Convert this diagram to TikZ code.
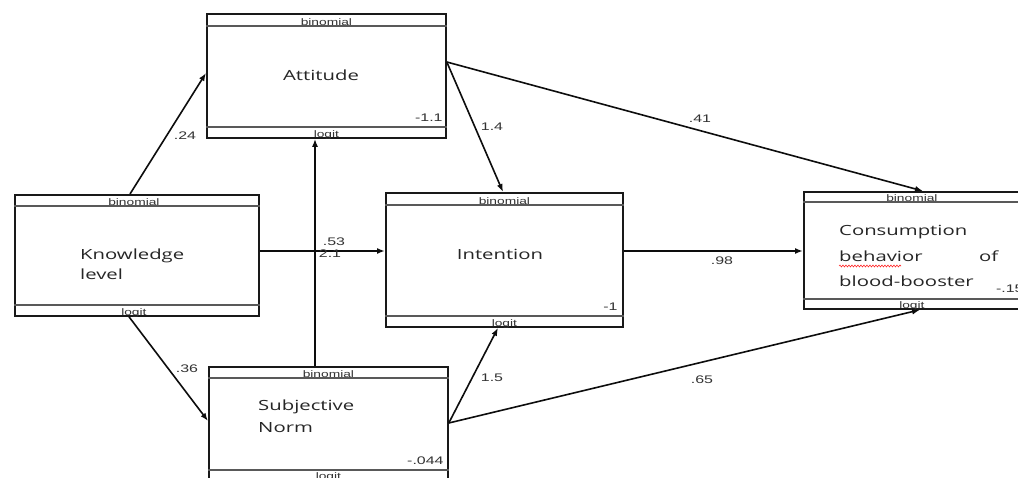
\documentclass[tikz,border=0pt]{standalone}
\usepackage{fontspec}
\newfontfamily\namefont{Open Sans}[FakeStretch=1.45]
\newfontfamily\labfont{Liberation Sans}[FakeStretch=1.45]
\usetikzlibrary{arrows.meta,calc,decorations.pathmorphing}
\begin{document}
\begin{tikzpicture}[x=1pt,y=-1pt,
  box/.style={draw=black!90, line width=1.8pt, inner sep=0pt, anchor=north west},
  band/.style={draw=black!65, line width=1.6pt},
  tag/.style={font=\labfont\fontsize{9.5}{9.5}\selectfont, text=black!80, inner sep=0pt, anchor=base},
  val/.style={font=\labfont\fontsize{11}{11}\selectfont, text=black!80, inner sep=0pt, anchor=base east},
  vname/.style={font=\namefont\fontsize{14}{18}\selectfont, text=black!85, inner sep=0pt},
  coef/.style={font=\labfont\fontsize{11}{11}\selectfont, text=black!80, inner sep=0pt},
  conn/.style={draw=black!95, line width=1.6pt, -{Latex[length=8pt,width=6pt]}}
]
\clip (0,0) rectangle (1018,478);
\fill[white] (0,0) rectangle (1018,478);

% boxes
\node[box, minimum width=239pt, minimum height=124pt] (att) at (206,13) {};
\node[box, minimum width=244pt, minimum height=121pt] (kno) at (14,194) {};
\node[box, minimum width=237pt, minimum height=134pt] (int) at (385,192) {};
\node[box, minimum width=222pt, minimum height=117pt] (con) at (803,191) {};
\node[box, minimum width=239pt, minimum height=115pt] (sn) at (208,366) {};

% bands
\draw[band] ($(att.north west)+(0,13)$) -- ($(att.north east)+(0,13)$);
\draw[band] ($(att.south west)+(0,-12)$) -- ($(att.south east)+(0,-12)$);
\draw[band] ($(kno.north west)+(0,12)$) -- ($(kno.north east)+(0,12)$);
\draw[band] ($(kno.south west)+(0,-12)$) -- ($(kno.south east)+(0,-12)$);
\draw[band] ($(int.north west)+(0,13)$) -- ($(int.north east)+(0,13)$);
\draw[band] ($(int.south west)+(0,-12)$) -- ($(int.south east)+(0,-12)$);
\draw[band] ($(con.north west)+(0,11)$) -- ($(con.north east)+(0,11)$);
\draw[band] ($(con.south west)+(0,-11)$) -- ($(con.south east)+(0,-11)$);
\draw[band] ($(sn.north west)+(0,12)$) -- ($(sn.north east)+(0,12)$);
\draw[band] ($(sn.south west)+(0,-13)$) -- ($(sn.south east)+(0,-13)$);

% band texts
\node[tag] (attb) at ($(att.north)+(0,12.5)$) {binomial};
\node[tag] (attl) at ($(att.south)+(0,-1.5)$) {logit};
\node[tag] (knob) at ($(kno.north)+(-3,11.5)$) {binomial};
\node[tag] (knol) at ($(kno.south)+(-3,-1.5)$) {logit};
\node[tag] (intb) at ($(int.north)+(0,12.5)$) {binomial};
\node[tag] (intl) at ($(int.south)+(0,-1.5)$) {logit};
\node[tag] (conb) at ($(con.north)+(-3,10.5)$) {binomial};
\node[tag] (conl) at ($(con.south)+(-3,-1.5)$) {logit};
\node[tag] (snb) at ($(sn.north)+(0,11.5)$) {binomial};
\node[tag] (snl) at ($(sn.south)+(0,-3)$) {logit};

% values
\node[val] (attv) at ($(att.south east)+(-4,-17)$) {-1.1};
\node[val] (intv) at ($(int.south east)+(-6,-17)$) {-1};
\node[val] (conv) at ($(con.south east)+(-3,-17)$) {-.15};
\node[val] (snv) at ($(sn.south east)+(-5,-18)$) {-.044};

% names
\node[vname, anchor=base] (attT) at (321,81) {Attitude};
\node[vname, anchor=base] (intT) at (500,260) {Intention};
\node[vname, align=left, anchor=west, font=\namefont\fontsize{14}{20}\selectfont] (knoT) at (80,264) {Knowledge\\level};
\node[vname, align=left, anchor=west, font=\namefont\fontsize{14}{22}\selectfont] (snT) at (258,416) {Subjective\\Norm};
\node[vname, align=left, anchor=west, text width=159pt, font=\namefont\fontsize{14}{25.5}\selectfont] (conT) at (839,256) {Consumption\\behavior\hfill of\\blood-booster};
\draw[red!85, line width=0.6pt, decorate, decoration={snake, amplitude=0.9pt, segment length=3pt}] (839,266) -- (901,266);

% connectors
\coordinate (attR) at ($(att.north east)+(0,49)$);
\coordinate (snR) at ($(sn.north east)+(0,57)$);
\draw[conn] ($(kno.north west)+(116,0)$) -- ($(att.north west)+(0,60)$);
\draw[conn] ($(kno.south west)+(115,0)$) -- ($(sn.north west)+(0,55)$);
\draw[conn] ($(kno.north east)+(0,57)$) -- ($(int.north west)+(0,59)$);
\draw[conn] ($(sn.north west)+(107,0)$) -- ($(att.south west)+(109,0)$);
\draw[conn] (attR) -- ($(int.north west)+(118,0)$);
\draw[conn] (attR) -- ($(con.north west)+(120,0)$);
\draw[conn] ($(int.north east)+(0,59)$) -- ($(con.north west)+(0,60)$);
\draw[conn] (snR) -- ($(int.south west)+(113,0)$);
\draw[conn] (snR) -- ($(con.south west)+(117,0)$);

% coefficients
\node[coef] (c1) at (185,136) {.24};
\node[coef] (c2) at (187,369) {.36};
\node[coef] (c3) at (334,242) {.53};
\node[coef] (c4) at (330,254) {2.1};
\node[coef] (c5) at (492,127) {1.4};
\node[coef] (c6) at (700,119) {.41};
\node[coef] (c7) at (722,261) {.98};
\node[coef] (c8) at (492,378) {1.5};
\node[coef] (c9) at (702,380) {.65};
\end{tikzpicture}
\end{document}
